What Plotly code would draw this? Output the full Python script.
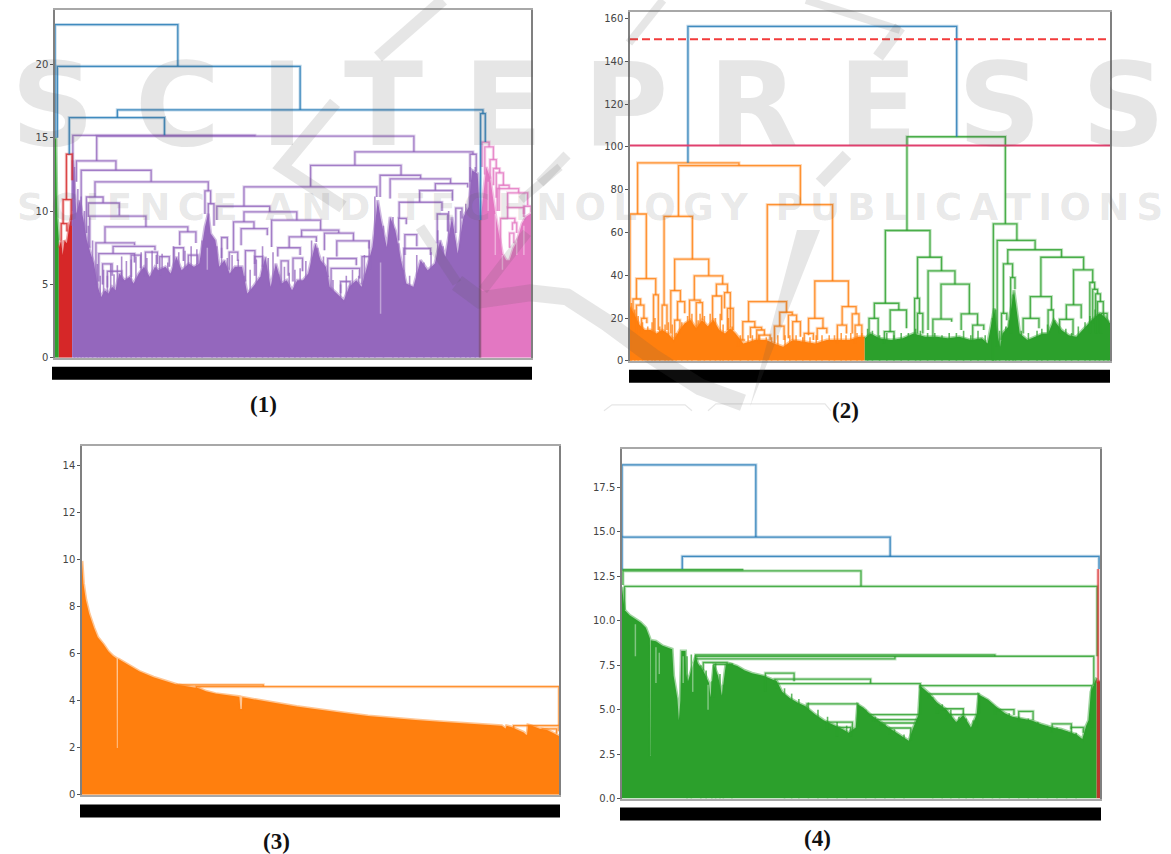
import plotly.graph_objects as go

# ---- Panel 1: link = [x_left, x_right, height, left_leg_bottom, right_leg_bottom], x in % of leaf order
P1_BLUE = [[0,25.8,22.7,15,19.86],[0.5,51.5,19.86,15,16.9],[13.1,89.9,16.9,16.37,16.64],
           [3,23,16.37,13.87,15.16],[89.4,90.4,16.64,9.4,14.7]]
P1_PURPLE = [[3.75,42,15.16,10,15.1],[8.76,75.4,15.1,13.42,14.03],[4.5,12.8,13.42,12,12.78],
  [5.5,20.2,12.78,9.8,11.99],[8.4,32.2,11.99,10.96,11.37],[6.6,10.1,10.96,8.5,10.55],[7,13.5,10.55,9.6,9.7],
  [7.3,19.1,9.65,7.5,8.92],[10.5,27.9,8.92,7.83,8.58],[8.6,16.7,7.83,5,7.67],[12.2,21,7.6,7.1,7.33],
  [9.2,16.7,7.1,5.2,6.5],[26.2,29.6,8.58,7.67,7.83],[31.5,32.7,11.37,9.8,10.5],[32.2,33.4,10.5,8.5,9],
  [63,87.8,14.03,13.12,13.87],[53.7,72.7,13.12,11.65,12.44],[39.7,67.6,11.65,10.33,10.96],
  [34,45.1,10.33,9.4,9.94],[39.7,50.8,9.94,9.26,9.38],[37.5,41.8,9.26,7.3,8.8],[39.1,44.6,8.8,7.67,8.35],
  [45.5,55.8,9.38,7.56,8.7],[51.8,59.6,8.7,8.24,8.5],[49.2,54.9,8.24,7.5,7.9],[46.8,51.5,7.5,6.9,7],
  [56.6,62.7,8.5,7.33,7.97],[59.2,66,7.97,6.9,7.45],[57.3,63.3,6.77,5.5,6.3],[58,64,6.1,4.6,5.4],
  [68.3,76.8,12.44,10.96,12.2],[70.4,83.1,12.2,10.85,11.87],[79.9,86.7,11.87,11.4,11.6],
  [76.6,83.5,11.4,10.6,10.7],[72.3,81.3,10.6,9.5,10],[72.2,73.8,9.5,8,9.1],[73.5,76,8.4,7,7.6],
  [73.3,78.9,7.45,5,7],[80.3,82.5,9.8,7.8,8.6],[84.2,85.5,10.2,8.5,9.5],[87.2,88.5,13.87,12,12.7],
  [10,12,6.4,5,5.6],[11,14,5.9,4.8,5.2],[16,18,7,5.5,6.1],[19,21.5,7.2,5.5,6.4],[22,24,6.9,5.6,6.2],
  [25,27,7.5,6,6.6],[28,30,7,6,6.4],[35,36.2,8.2,6.8,7.4],[36.6,38.4,7.2,6,6.6],[40,42,7.3,5.2,6.4],
  [42,43.6,6.9,5.6,6.2],[47.5,49,6.6,5,5.6],[50,52,6.8,5.2,5.9],[60,62,5.2,4.4,4.7],[64.5,66.2,6.9,5,6]]
P1_PINK = [[89.7,91.2,14.7,13,14.37],[90.3,92.1,14.37,12.5,13.5],[91.4,92.7,13.5,12.2,12.9],
  [92.1,93.4,12.9,11.76,12.6],[92.7,94.2,12.6,10.9,11.76],[93.3,95.4,11.76,10,11.53],
  [92.9,97.4,11.53,10,11.24],[95.1,99.3,11.24,10.17,10.4],[95.1,98.5,10.24,9.5,9.6],[98.5,100,10.33,9.8,9.9],
  [93.6,96.6,9.5,7.1,9.2],[96.1,97,9.2,8.7,8.5],[95.5,96.4,8.5,7.5,7.8]]
P1_RED = [[2.4,3.6,13.87,10.78,12.1],[1.7,3.4,10.78,9.15,9.4],[1.3,2.5,9.15,8,8.6]]
P1_BOUNDARY = [[89.3,89.3,9.4,0,0]]
P1_GREEN_X = [0,0.2,0.35,0.5,0.8]
P1_GREEN_Y = [15,14.9,11.4,9.5,8]
P1_RED_X = [0.8,1.3,1.6,2,2.5,3,3.6]
P1_RED_Y = [7.5,8,7,8,7.8,9,9.8]
P1_PURPLE_X = [3.6,3.75,4.5,5.2,6,6.7,7.5,8.2,9,9.7,10.5,11.2,12,12.7,13.5,14.6,15.7,16.5,17.6,18.7,19.9,21,21.7,
  23.2,24.3,25.5,26.6,28.1,29.2,30.3,31.5,32.2,32.7,33.7,34.5,35.6,36.7,37.8,39.3,40.4,41.6,43.1,44.2,45.3,46.4,
  47.6,48.7,49.8,50.9,52.1,53.2,54.7,55.8,56.9,57.7,59.2,60.7,61.8,63.3,64.4,65.5,66.7,67.8,68.5,69.7,70.4,71.5,
  72.7,73.8,75.3,76.8,78.3,79.8,80.9,82,83.4,84.6,85.8,86.9,87.6,88.8,89.3]
P1_PURPLE_Y = [9,13.46,9.83,10.74,9.38,8.01,7.11,6.42,4.84,4.15,4.61,4.38,4.84,4.61,5.74,5.29,5.52,5.06,5.74,6.2,5.52,
  6.2,5.97,6.2,5.74,6.88,5.97,6.42,6.2,6.42,8.92,9.83,8.47,8.01,6.2,6.65,5.74,6.2,6.2,4.38,4.84,5.52,6.88,4.84,6.42,
  5.06,5.29,4.61,5.29,5.29,5.74,7.79,6.65,6.2,4.84,4.38,3.93,4.84,5.29,4.84,6.2,7.56,10.74,9.38,7.56,9.6,8.69,6.65,
  5.06,4.84,6.65,5.97,6.42,8.01,6.88,9.6,7.11,9.6,10.28,12.78,12.55,9.38]
P1_PINK_X = [89.3,89.5,90.6,91.4,92.5,93.3,94,94.8,95.5,96.3,97,98.1,98.9,100]
P1_PINK_Y = [9.38,9.6,13,12.3,9.83,8.47,7.1,6.65,6.65,7.45,7.9,9.15,9.6,9.83]
P1_SPIKE_X = [4.1,4.8,5.5,6.2,7,7.9,8.9,9.5,10.2,11,11.7,12.4,13.1,14,15,16,17,18.1,19.3,20.4,21.3,22.5,23.7,24.9,26,27.3,
  28.6,29.8,30.9,33,34,35,36.2,37.2,38.5,39.8,41,42.3,43.6,44.8,45.8,47,48.2,49.2,50.4,51.5,52.7,53.9,55.2,56.4,57.3,58.4,
  60,61.2,62.5,63.8,65,66,67.2,69,71,72.2,73.2,74.5,76,77.5,79,80.4,81.5,82.7,84,85.2,86.3,87.2,88.3]
P1_SPIKE_Y = [13,11.5,11,10,9,8,6.4,5.6,6,5.6,6.4,5.7,6.3,6.9,6.6,6.7,6.9,7.2,6.8,7.3,7,7.1,6.5,7.6,7.2,7.3,7.6,7.4,8,8.2,
  7.6,7.5,6.8,7,6.7,5.6,6,6.7,7.6,6.8,7.2,5.7,6.2,5.8,6,6.1,6.6,8,7.5,6.9,5.6,5.3,5,5.6,6,5.6,7,8,11,9,9.6,7.8,6,5.6,7,
  6.5,7.2,8.7,7.6,10,8,10,10.5,13,13]
P1_SLITS = [[68.4,3,6.5],[32,6,7.5],[92.5,7,9.8],[94,6,7],[97,7,8],[98.5,7,9],[91,10,12],[43,5.5,6.5],[75,5,6]]

# ---- Panel 2
P2_BLUE = [[12.07,68.06,156.25,92.5,104.7]]
P2_CUT_SOLID = [100.6]
P2_CUT_DASHED = [150.3]
P2_ORANGE = [[1.58,22.7,92.5,68.6,91.25],[10.1,35.5,91.25,67.5,73],[0,3.4,68.6,0,38.4],[1.34,5.36,38.4,28.9,30.8],
  [0.63,2.2,28.9,20,26.1],[1.34,2.9,26,12.8,19.8],[2.4,3.5,19.8,12.8,17.5],[4.9,5.9,30.8,12.8,14.4],
  [7.1,13,67.5,26,47.5],[6.7,7.7,26,12.8,14.4],[9.3,16.4,47.5,32.8,39.7],[8.5,10.5,32.8,12.8,27.7],
  [9.9,11.4,27.7,19,22.2],[9.3,10.4,19,9.7,12.8],[13.4,19.3,39.7,28.4,35.8],[12.4,14.6,28.4,18.3,27.2],
  [13.8,15.1,27.2,15.2,19],[18,20.3,35.8,30.3,31.9],[17.2,19.1,30.3,14.4,19],[19.7,20.9,31.9,24.5,15.6],
  [20.3,21.5,24.5,14.4,14.4],[28.6,42.2,73,27.7,37.3],[24.7,32.6,27.7,18.3,22.7],[23.5,26,18.3,9.7,15.6],
  [25.1,27.4,15.6,10.5,14.4],[26.4,28,14.4,9.7,12],[26.8,29.2,12,8.1,9.7],[22.5,24,9.7,6.6,9.7],
  [31.2,33.8,22.7,16.25,21.4],[30.1,32.1,16.25,8.1,9.7],[33,34.7,21.4,10.5,18.3],[33.9,35.5,18.3,9.7,11.25],
  [38.5,45.5,37.3,19.8,25.3],[37.2,40.2,19.8,12,15.2],[39,41,15.2,9.7,12.8],[36.3,38.2,12.8,8.1,9.7],
  [44.2,47.1,25.3,16.7,21.9],[43.2,45.1,16.7,8.1,12.8],[46.3,47.7,21.9,12.8,16.7],[46.9,48.3,16.7,8.1,9.7]]
P2_GREEN = [[57.7,78.2,104.7,60.9,64],[53.2,62.5,60.9,26.9,48.4],[50.9,56,26.9,19.8,23.75],[49.8,51.7,19.8,11.25,9.7],
  [54.2,57.6,23.75,13.6,15.2],[53,55,13.6,8.1,9.7],[59.9,64.9,48.4,29.2,42],[59.3,60.3,29.2,11.25,22.2],
  [59.9,61,22.2,12.8,12.8],[62.1,67.7,42,14.4,35.8],[64.8,70.7,35.8,19.5,21.9],[63.1,67,19.5,11.25,18.3],
  [69,72.4,21.9,14.4,16.7],[71.4,73.7,16.7,9.7,14.4],[75.7,80.6,64,0,56.25],[76.5,84.4,56.25,6.6,51.9],
  [78.7,89.9,51.9,45.3,48.4],[77.8,79.7,45.3,22.2,38.9],[79.3,80.2,38.9,12.8,33.4],[77.4,78.5,22.2,9.7,19],
  [85.6,94.5,48.4,30,42.5],[83.4,87.8,30,19.8,23.75],[81.9,85.2,19.8,12.8,15.2],[87.1,88.2,23.75,12.8,15.2],
  [92.4,96.4,42.5,26.1,36.6],[90.9,94,26.1,19.4,19.8],[89.5,92.3,19.4,12.8,12],[95.8,96.8,36.6,12.8,33.4],
  [96.4,97.4,33.4,17.5,31.25],[97,98,31.25,12.8,27.7],[97.4,98.6,27.7,12.8,22.2],[98.2,99.4,22.2,12.8,19]]
P2_ORANGE_X = [0,0.8,2,3.1,4.3,5.5,6.7,7.9,9.1,10.3,11.4,12.6,13.8,15,16.2,17.4,18.6,19.8,20.9,22,23.6,26,28.4,30,31.9,
  33.9,36.3,38.6,41,43.4,45.7,47.7,48.9]
P2_ORANGE_Y = [25.3,22.2,16.7,14.4,14.4,12.8,14.4,12.8,9.7,14.4,17.5,19.1,15.2,19.1,16.1,19.1,14.4,12.8,15.2,12.8,8.1,9.7,
  9.7,8.1,6.6,9.7,8.9,8.1,9.7,9.7,9.7,11.25,11.25]
P2_GREEN_X = [48.9,50.1,52,54.4,56.8,59.1,61.5,63.9,66.2,68.6,71,73.3,74.5,75.9,76.5,77.1,77.6,78.8,80,81.2,82.8,84.4,
  86,87.1,88.3,89.9,91.4,93,94.6,96.2,97.8,98.9,100]
P2_GREEN_Y = [10.5,12.8,10.5,9.7,10.5,12.8,11.25,11.25,10.5,11.25,9.7,10.5,8.1,24.5,12.8,6.6,12.8,15.9,33,12.8,9.7,11.25,
  12.8,12.8,19.1,14.4,12,11.25,15.2,19.1,22.2,20.6,17.5]
P2_SPIKE_O_X = [0.3,1,1.7,2.6,3.7,4.6,5.2,6.2,7.3,8,8.8,9.6,10.8,12,12.9,14.2,14.6,15.5,16.7,17.8,18.8,19.4,20.5,21.3,23,
  24.6,25.5,27,28.4,29.5,30.8,32.3,33.3,34.6,36,37.5,38.8,40,41.5,42.6,44,45,46,47.3,48.3]
P2_SPIKE_O_Y = [27,24,21,18,16,18,20,16,17,18,17,13,18,21,22,19,22,21,22,20,22,17,20,16,12,12,12,12,11,11,12,12,12,12,11,11,
  12,12,12,12,13,12,13,13,13]
P2_SPIKE_G_X = [49.5,50.5,52,53.5,55,56.5,58,59.5,60.5,62,63.5,65,66.5,68,69.5,71,72.5,74,75.5,76.2,77,78.3,79,79.8,80.3,
  81.5,83,84.8,85.8,87,88.5,89.5,90.8,92,93.4,94.8,95.8,96.9,97.8,98.7,99.6]
P2_SPIKE_G_Y = [15,14,12,13,12,13,13,15,14,13,13,12,13,13,14,12,14,12,20,24,14,16,19,31,22,14,13,14,15,17,19,15,15,13,16,18,
  21,24,22,22,19]

# ---- Panel 3
P3_LINKS = [[20,38,4.67,4.6,4.6],[24,100,4.6,4.5,2.94],[90.5,100,2.94,2.8,2.7],[96.5,99.5,2.8,2.7,2.6]]
P3_X = [0,0.3,0.8,1.5,2.5,3.3,4.5,5.5,6.5,7.25,7.3,7.5,7.55,10,12,15,18,20,24.5,26,28,31,33,33.2,33.5,33.6,36,40,45,50,55,
  60,65,70,75,80,85,88,88.8,89,90,92.6,93.1,93.3,93.5,94,96,97.5,99,100]
P3_Y = [9.95,9,8.3,7.7,7.1,6.7,6.4,6.1,5.9,5.8,1.98,1.98,5.78,5.5,5.25,5,4.8,4.68,4.53,4.4,4.3,4.22,4.17,3.65,3.65,4.14,4.05,
  3.92,3.75,3.6,3.47,3.35,3.25,3.18,3.1,3.03,2.95,2.93,2.82,2.93,2.88,2.65,2.55,2.55,2.97,2.95,2.8,2.75,2.6,2.5]

# ---- Panel 4
P4_BLUE = [[0,28,18.76,14.7,14.7],[0,56.1,14.7,12.87,13.61],[12.6,99.8,13.61,12.9,12.9]]
P4_GREEN = [[0.2,25.4,12.87,12.8,12.87],[0.2,50,12.8,12,11.93],[0.55,99.4,11.93,10.6,8],[15.4,98.7,8,7.85,6.4],
  [15.4,78,8.08,8,8],[15.4,57.1,7.85,7.6,8],[32.4,62.4,6.46,6.2,4.7],[62.4,98.3,6.35,6.2,4],[32,52,6.72,6.4,6.46],
  [64.3,74.6,5.88,5.6,4.8],[38.7,49.3,5.32,5,4.06],[51.6,62,4.72,4.6,4.7],[52.5,61.8,4.44,4.3,4.4],
  [54.1,61.6,4.25,4.1,4.2],[56,60.4,3.97,3.6,3.25],[66,71.4,5.05,4.8,4.7],[68,74.2,4.72,4.5,4],
  [17,22,7.65,7.2,7.5],[19.2,23,7.55,5.7,7.5],[78,82,5,4.7,4.7],[83,86,4.9,4.3,4.4],[90,94,4.2,3.7,3.9],
  [94,96.5,4,3.4,3.7],[43,48.2,4.3,3.9,3.8],[45,47.8,4,3.5,3.5],[30,36,7.05,6,6.6]]
P4_RED = [[99.6,99.6,12.9,6.5,6.5]]
P4_RED_X = [99.3,99.5,100]
P4_RED_Y = [6.5,6.6,6.6]
P4_GREEN_X = [0,0.55,1.6,2.8,3.9,5,5.85,5.9,5.95,6,7.1,8.4,9.9,10.5,10.8,11.6,11.9,12.2,12.4,13.3,13.4,13.8,15.4,15.9,17,18.2,
  18.5,19.2,20.1,20.9,21.7,22.5,24.1,25.7,27.2,29.6,32.4,33.5,35.1,36.7,38.3,40.3,42.2,44.6,46.2,47.4,48.9,49.3,50.5,52.1,
  54.1,56,58,60,60.8,62,62.4,64.3,65.9,67.9,69.9,71.4,73,74.2,74.6,76.6,78.1,80.1,81.7,84.1,85.6,87.6,90,91.9,93.5,95.1,
  96.3,97.1,97.6,98.1,98.7,99.3]
P4_GREEN_Y = [11.9,10.6,10.3,10.1,9.9,9.6,9,2.4,2.4,8.9,8.85,8.6,8.45,8.4,6.9,5.6,4.4,5.5,8.3,8.3,7,6.6,8,7.6,7.2,6.5,5.7,7.5,6.9,
  5.8,7.5,7.6,7.45,7.2,7.05,6.9,6.6,6,5.65,5.4,5.2,4.75,4.4,4.1,3.9,3.7,4,5.3,5.1,4.7,4.3,3.95,3.6,3.25,3.9,4.7,6.35,5.9,
  5.4,5,4.3,4.7,4,4.7,5.85,5.55,5.2,4.8,4.6,4.5,4.4,4.2,4,3.9,3.75,3.6,3.35,4.1,4.4,6,6.4,6.8]
P4_SPIKE_X = [13.6,14.5,16.5,17.6,18.8,19.6,20.5,21.2,23,34,35.5,37,39,41,43,45,47,51,53,55,57,59,65,67,68.8,70.5,72,73.5,
  75.5,77.5,79,81,83,85,87,89,91,93,95]
P4_SPIKE_Y = [8,8.1,7.5,7.2,6.6,7.6,7,6.4,7.6,6.2,5.9,5.6,5.4,5,4.6,4.3,4.1,5,4.6,4.2,3.9,3.6,5.7,5.3,5,4.6,4.5,4.4,5.7,5.3,
  5,4.8,4.6,4.5,4.3,4.1,4,3.8,3.7]
P4_SLITS = [[2.8,8,9.8],[7.1,6.5,8.5],[7.8,7,8.2],[12.8,6.5,8],[14.8,6,7.6],[18,5,6.4]]

P1_TICKS = [0,5,10,15,20]
P2_TICKS = [0,20,40,60,80,100,120,140,160]
P3_TICKS = [0,2,4,6,8,10,12,14]
P4_TICKS = [0,2.5,5,7.5,10,12.5,15,17.5]
CAPTIONS = ["(1)","(2)","(3)","(4)"]
WATERMARK_BIG = "S C I T E P R E S S"
WATERMARK_SMALL = "\u2009".join("SCIENCE AND TECHNOLOGY PUBLICATIONS")

W, H = 1171, 854
H_EFF = 848.4
BLUE, ORANGE, GREEN, RED, PURPLE, PINK = "#1f77b4", "#ff7f0e", "#2ca02c", "#d62728", "#9467bd", "#e377c2"

def rgba(c, a):
    return f"rgba({int(c[1:3],16)},{int(c[3:5],16)},{int(c[5:7],16)},{a})"

fig = go.Figure()

def links(L, color, n):
    xs, ys = [], []
    for x1, x2, h, yl, yr in L:
        xs += [x1, x1, x2, x2, None]
        ys += [yl, h, h, yr, None]
    for w, a in ((3.2, 0.28), (1.3, 0.8)):
        fig.add_trace(go.Scatter(x=xs, y=ys, mode="lines", line=dict(color=rgba(color, a), width=w),
                                 xaxis=f"x{n}", yaxis=f"y{n}", hoverinfo="skip", showlegend=False))

def mass(x, y, color, n):
    fig.add_trace(go.Scatter(x=x, y=y, mode="lines", fill="tozeroy", fillcolor=color,
                             line=dict(color=rgba(color, 0.45), width=3),
                             xaxis=f"x{n}", yaxis=f"y{n}", hoverinfo="skip", showlegend=False))

def spikes(x, y, color, n):
    xs, ys = [], []
    for a, b in zip(x, y):
        xs += [a, a, None]
        ys += [0, b, None]
    fig.add_trace(go.Scatter(x=xs, y=ys, mode="lines", line=dict(color=rgba(color, 0.75), width=1.6),
                             xaxis=f"x{n}", yaxis=f"y{n}", hoverinfo="skip", showlegend=False))

def slits(S, n):
    xs, ys = [], []
    for x, lo, hi in S:
        xs += [x, x, None]
        ys += [lo, hi, None]
    fig.add_trace(go.Scatter(x=xs, y=ys, mode="lines", line=dict(color="rgba(255,255,255,0.4)", width=1.5),
                             xaxis=f"x{n}", yaxis=f"y{n}", hoverinfo="skip", showlegend=False))

mass(P1_GREEN_X, P1_GREEN_Y, GREEN, 1)
mass(P1_RED_X, P1_RED_Y, RED, 1)
spikes(P1_SPIKE_X, P1_SPIKE_Y, PURPLE, 1)
mass(P1_PURPLE_X, P1_PURPLE_Y, PURPLE, 1)
mass(P1_PINK_X, P1_PINK_Y, PINK, 1)
slits(P1_SLITS, 1)
links(P1_PURPLE, PURPLE, 1); links(P1_PINK, PINK, 1); links(P1_RED, RED, 1)
links(P1_BOUNDARY, "#7a4a6a", 1); links(P1_BLUE, BLUE, 1)

spikes(P2_SPIKE_O_X, P2_SPIKE_O_Y, ORANGE, 2)
spikes(P2_SPIKE_G_X, P2_SPIKE_G_Y, GREEN, 2)
mass(P2_ORANGE_X, P2_ORANGE_Y, ORANGE, 2)
mass(P2_GREEN_X, P2_GREEN_Y, GREEN, 2)
links(P2_ORANGE, ORANGE, 2); links(P2_GREEN, GREEN, 2); links(P2_BLUE, BLUE, 2)
fig.add_trace(go.Scatter(x=[0,100], y=P2_CUT_DASHED*2, mode="lines", line=dict(color="#f23b3b", width=2, dash="8px,4px"),
                         xaxis="x2", yaxis="y2", hoverinfo="skip", showlegend=False))
fig.add_trace(go.Scatter(x=[0,100], y=P2_CUT_SOLID*2, mode="lines", line=dict(color="#e0406e", width=2),
                         xaxis="x2", yaxis="y2", hoverinfo="skip", showlegend=False))

mass(P3_X, P3_Y, ORANGE, 3)
links(P3_LINKS, ORANGE, 3)

spikes(P4_SPIKE_X, P4_SPIKE_Y, GREEN, 4)
mass(P4_GREEN_X, P4_GREEN_Y, GREEN, 4)
slits(P4_SLITS, 4)
links(P4_GREEN, GREEN, 4)
mass(P4_RED_X, P4_RED_Y, "#b8392b", 4)
links(P4_RED, RED, 4); links(P4_BLUE, BLUE, 4)

def px(x): return x / W
def py(y): return 1 - y / H_EFF

boxes = [(55,531,10,358,[0,23.7],P1_TICKS,None), (630,1110,12,361,[0,163],P2_TICKS,None),
         (82,559,446,795,[0,14.85],P3_TICKS,None), (622,1100,449,799,[0,19.66],P4_TICKS,".1f")]
layout = dict(width=W, height=H, margin=dict(l=0,r=0,t=0,b=0), paper_bgcolor="white", plot_bgcolor="white", showlegend=False)
for i,(l,r,t,b,yr,ticks,fmt) in enumerate(boxes, 1):
    layout[f"xaxis{i}"] = dict(domain=[px(l),px(r)], range=[0,100], showticklabels=False, ticks="", showgrid=False,
                               zeroline=False, mirror=True, showline=True, linecolor="#a8a8a8", linewidth=1.5, anchor=f"y{i}")
    layout[f"yaxis{i}"] = dict(domain=[py(b),py(t)], range=yr, tickmode="array", tickvals=ticks, ticks="outside", ticklen=3,
                               tickcolor="#555", tickfont=dict(family="DejaVu Sans", size=10, color="#444"), tickformat=fmt,
                               showgrid=False, zeroline=False, mirror=True, showline=True, linecolor="#808080", linewidth=1.5,
                               anchor=f"x{i}")
fig.update_layout(**layout)

shapes = []
# black bands made by the thousands of overlapping rotated leaf labels
for l,r,t,b in [(52,532,367,380),(629,1110,370,383),(80,560,805,818),(620,1101,808,821)]:
    shapes.append(dict(type="rect", xref="paper", yref="paper", x0=px(l), x1=px(r), y0=py(b), y1=py(t),
                       fillcolor="#000", line=dict(width=0)))
# diagonal watermark strokes
WM = "rgba(90,90,90,0.15)"
strokes = [([(443,0),(378,57)],12),([(335,103),(282,167),(343,207)],13),
           ([(420,227),(457,283)],10),([(483,290),(527,233)],10),([(540,183),(567,155)],10),
           ([(457,283),(480,300),(530,293),(567,297),(607,323),(653,357),(700,387),(743,403)],17),
           ([(900,27),(878,57)],12),([(806,0),(900,30)],8),([(847,155),(820,183)],12),([(663,0),(629,43)],8),
           ([(521,200),(560,167)],8),([(604,411),(612,405),(685,405),(692,411)],1.2),([(708,411),(716,404),(825,404),(831,411)],1.2)]
for pts,w in strokes:
    d = "M " + " L ".join(f"{px(x):.4f},{py(y):.4f}" for x,y in pts)
    shapes.append(dict(type="path", path=d, xref="paper", yref="paper", line=dict(color=WM, width=w), layer="above"))
tri = [(797,230),(820,230),(750,407)]
shapes.append(dict(type="path", path="M " + " L ".join(f"{px(x):.4f},{py(y):.4f}" for x,y in tri) + " Z",
                   xref="paper", yref="paper", line=dict(width=0), fillcolor=WM, layer="above"))
fig.update_layout(shapes=shapes)

ann = [dict(text=f"<b>{WATERMARK_BIG}</b>", x=px(588), y=py(105), font=dict(family="DejaVu Sans", size=116, color=WM)),
       dict(text=f"<b>{WATERMARK_SMALL}</b>", x=px(590), y=py(208), font=dict(family="DejaVu Sans", size=37, color=WM))]
for t,(x,y) in zip(CAPTIONS, [(263,405),(845,411),(276,842),(817,839)]):
    ann.append(dict(text=f"<b>{t}</b>", x=px(x), y=py(y), font=dict(family="Liberation Serif", size=23, color="#111")))
for a in ann:
    a.update(xref="paper", yref="paper", showarrow=False, xanchor="center", yanchor="middle")
fig.update_layout(annotations=ann)

fig.write_html("out.html", config={"displayModeBar": False}, post_script="document.body.style.margin='0';")
